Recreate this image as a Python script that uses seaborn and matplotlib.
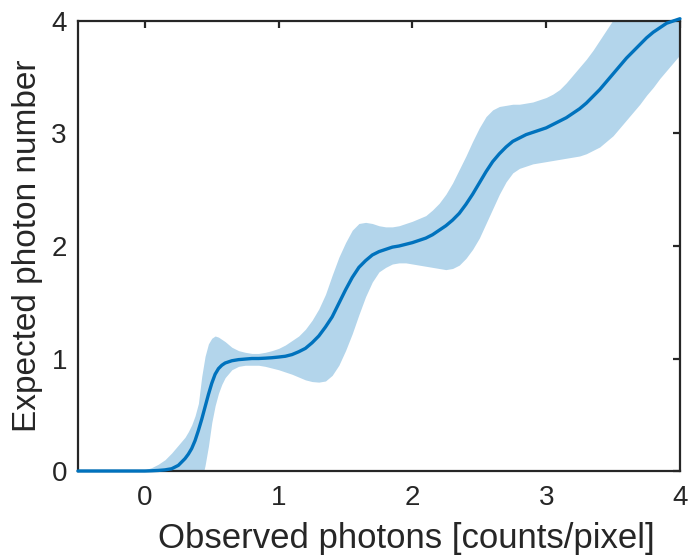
import matplotlib
matplotlib.use("Agg")
import matplotlib.pyplot as plt
import pandas as pd
import seaborn as sns

# Observed photon signal (counts/pixel)
observed = [-0.5, -0.25, 0.0, 0.05, 0.1, 0.15, 0.2, 0.25, 0.3,
            0.325, 0.35, 0.375, 0.4, 0.425, 0.45, 0.475, 0.5, 0.525, 0.55, 0.575, 0.6,
            0.65, 0.7, 0.75, 0.8, 0.85, 0.9, 0.95, 1.0,
            1.05, 1.1, 1.15, 1.2, 1.25, 1.3, 1.35, 1.4, 1.45, 1.5,
            1.55, 1.6, 1.65, 1.7, 1.75, 1.8, 1.85, 1.9, 1.95, 2.0,
            2.05, 2.1, 2.15, 2.2, 2.25, 2.3, 2.35, 2.4, 2.45, 2.5,
            2.55, 2.6, 2.65, 2.7, 2.75, 2.8, 2.85, 2.9, 2.95, 3.0,
            3.05, 3.1, 3.15, 3.2, 3.25, 3.3, 3.35, 3.4, 3.45, 3.5,
            3.55, 3.6, 3.65, 3.7, 3.75, 3.8, 3.85, 3.9, 3.95, 4.0]

# Posterior mean of the photon number
expected = [0.0, 0.0, 0.0, 0.002, 0.005, 0.01, 0.02, 0.05, 0.11,
            0.15, 0.2, 0.27, 0.36, 0.46, 0.57, 0.68, 0.78, 0.86, 0.91, 0.94, 0.96,
            0.98, 0.99, 0.995, 1.0, 1.0, 1.003, 1.007, 1.013,
            1.02, 1.035, 1.06, 1.09, 1.14, 1.2, 1.28, 1.37, 1.49, 1.61,
            1.72, 1.81, 1.87, 1.92, 1.95, 1.97, 1.99, 2.0, 2.015, 2.03,
            2.05, 2.07, 2.1, 2.14, 2.18, 2.23, 2.29, 2.37, 2.46, 2.56,
            2.66, 2.75, 2.82, 2.88, 2.93, 2.96, 2.99, 3.01, 3.03, 3.05,
            3.08, 3.11, 3.14, 3.18, 3.22, 3.27, 3.33, 3.39, 3.46, 3.53,
            3.6, 3.67, 3.73, 3.79, 3.85, 3.9, 3.94, 3.98, 4.0, 4.02]

# Upper and lower edges of the uncertainty band
upper = [0.0, 0.0, 0.01, 0.03, 0.06, 0.1, 0.16, 0.23, 0.3,
         0.35, 0.41, 0.49, 0.6, 0.84, 1.02, 1.13, 1.18, 1.2, 1.19, 1.17, 1.15,
         1.1, 1.07, 1.055, 1.045, 1.045, 1.055, 1.07, 1.09,
         1.12, 1.16, 1.2, 1.26, 1.34, 1.44, 1.57, 1.74, 1.9, 2.03,
         2.14, 2.2, 2.21, 2.2, 2.18, 2.17, 2.17, 2.18, 2.2, 2.22,
         2.245, 2.27, 2.32, 2.38, 2.46, 2.56, 2.68, 2.8, 2.93, 3.05,
         3.15, 3.21, 3.24, 3.25, 3.26, 3.26, 3.27, 3.28, 3.3, 3.32,
         3.35, 3.39, 3.45, 3.52, 3.59, 3.66, 3.74, 3.83, 3.92, 4.01,
         4.1, 4.17, 4.24, 4.3, 4.35, 4.38, 4.4, 4.42, 4.44, 4.45]

lower = [0.0, 0.0, -0.01, -0.02, -0.04, -0.07, -0.1, -0.14, -0.19,
         -0.22, -0.25, -0.25, -0.2, -0.08, 0.05, 0.22, 0.43, 0.58, 0.69, 0.77, 0.83,
         0.9, 0.93, 0.94, 0.94, 0.94, 0.93, 0.915, 0.9,
         0.88, 0.86, 0.835, 0.81, 0.795, 0.79, 0.8, 0.85, 0.94, 1.07,
         1.22, 1.39, 1.55, 1.68, 1.77, 1.81, 1.84, 1.85, 1.85, 1.84,
         1.83, 1.82, 1.81, 1.8, 1.79, 1.8, 1.83, 1.89, 1.97, 2.07,
         2.2, 2.33, 2.46, 2.57, 2.65, 2.69, 2.71, 2.73, 2.74, 2.75,
         2.76, 2.77, 2.78, 2.79, 2.8, 2.82, 2.85, 2.88, 2.93, 2.98,
         3.05, 3.12, 3.19, 3.26, 3.34, 3.41, 3.49, 3.56, 3.63, 3.7]

x_ticks = [0, 1, 2, 3, 4]
y_ticks = [0, 1, 2, 3, 4]

df = pd.DataFrame({"observed": observed, "expected": expected,
                   "upper": upper, "lower": lower})

sns.set_style("white")
plt.rcParams["font.family"] = ["Liberation Sans", "DejaVu Sans"]

line_color = "#0072BD"
band_color = "#b3d5eb"
axis_color = "#262626"

fig = plt.figure(figsize=(6.89, 5.58), dpi=100)
ax = fig.add_axes([0.1132, 0.1559, 0.9869 - 0.1132, 0.9624 - 0.1559])

ax.fill_between(df["observed"], df["lower"], df["upper"],
                color=band_color, linewidth=0, zorder=1)
sns.lineplot(data=df, x="observed", y="expected", ax=ax, color=line_color,
             linewidth=2.4, zorder=4, estimator=None, sort=False, clip_on=False)

ax.set_xlim(-0.5, 4)
ax.set_ylim(0, 4)
ax.set_xticks(x_ticks)
ax.set_yticks(y_ticks)

ax.set_xlabel("Observed photons [counts/pixel]", fontsize=25, color=axis_color)
ax.xaxis.set_label_coords(0.545, -0.114)
ax.set_ylabel("Expected photon number", fontsize=24, color=axis_color,
              labelpad=6)

for side in ["left", "right", "top", "bottom"]:
    ax.spines[side].set_visible(True)
    ax.spines[side].set_color(axis_color)
    ax.spines[side].set_linewidth(1.6)
    ax.spines[side].set_zorder(3)

ax.tick_params(axis="both", which="major", direction="in", length=5, width=1.6,
               color=axis_color, labelcolor=axis_color, labelsize=20,
               top=True, right=True)
ax.tick_params(axis="x", pad=10)
ax.tick_params(axis="y", pad=8)

fig.savefig("out.png", dpi=100)
